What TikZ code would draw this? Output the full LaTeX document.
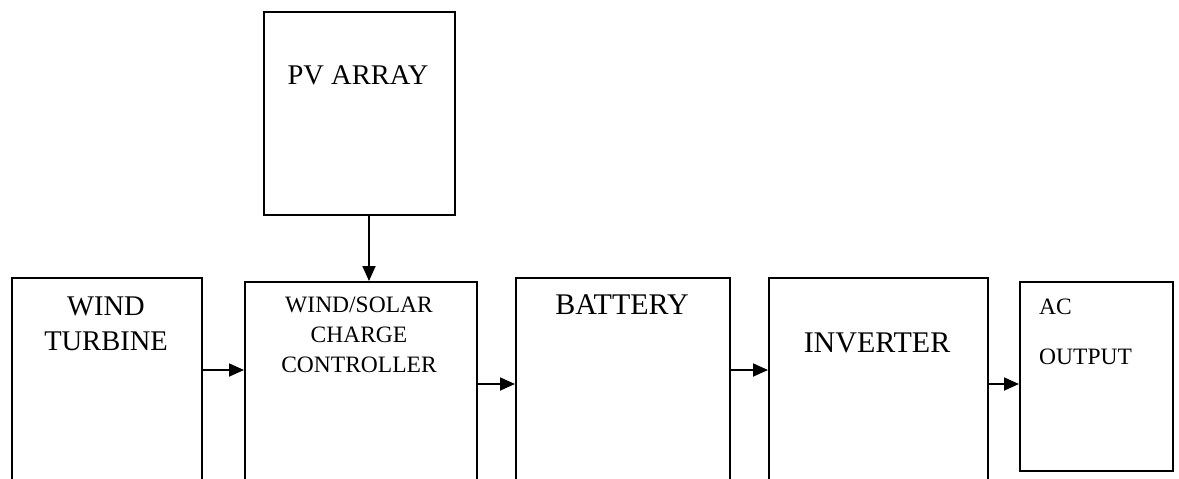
\documentclass[tikz,border=0pt]{standalone}
\usepackage{fontspec}
\setmainfont{Liberation Serif}
\usetikzlibrary{arrows.meta}
\begin{document}
\begin{tikzpicture}[x=1pt,y=-1pt,
  blk/.style={draw=black,line width=1.8pt,rectangle,inner sep=0pt,anchor=north west},
  arr/.style={line width=1.8pt,-{Triangle[length=15pt,width=13pt]}},
  bigtxt/.style={inner sep=0pt,font=\fontsize{28.5}{35}\selectfont,align=center},
  btxt/.style={inner sep=0pt,font=\fontsize{30}{35}\selectfont,align=center},
  smalltxt/.style={inner sep=0pt,font=\fontsize{23.5}{30}\selectfont,align=center},
  actxt/.style={inner sep=0pt,font=\fontsize{23.5}{30}\selectfont,anchor=west}]
\fill[white] (0,0) rectangle (1179,479);
\useasboundingbox (0,0) rectangle (1179,479);
\clip (0,0) rectangle (1179,479);
% boxes
\node[blk,minimum width=191pt,minimum height=203pt] (pv) at (263,11) {};
\node[blk,minimum width=190pt,minimum height=230pt] (wt) at (11,277) {};
\node[blk,minimum width=232pt,minimum height=230pt] (cc) at (244,281) {};
\node[blk,minimum width=214pt,minimum height=230pt] (bat) at (515,277) {};
\node[blk,minimum width=219pt,minimum height=230pt] (inv) at (768,277) {};
\node[blk,minimum width=153pt,minimum height=189pt] (ac) at (1019,281) {};
% texts
\node[bigtxt] (tpv) at (358,75) {PV ARRAY};
\node[bigtxt] (twt) at (106,324) {WIND\\TURBINE};
\node[smalltxt] (tcc) at (359,335) {WIND/SOLAR\\CHARGE\\CONTROLLER};
\node[btxt] (tbat) at (622,305) {BATTERY};
\node[btxt] (tinv) at (877,343) {INVERTER};
\node[actxt] (tac1) at (1039,307) {AC};
\node[actxt] (tac2) at (1039,357) {OUTPUT};
% connectors
\draw[arr] (pv.south -| 369,0) -- (cc.north -| 369,0);
\draw[arr] (wt.east |- 0,370) -- (cc.west |- 0,370);
\draw[arr] (cc.east |- 0,384) -- (bat.west |- 0,384);
\draw[arr] (bat.east |- 0,370) -- (inv.west |- 0,370);
\draw[arr] (inv.east |- 0,384) -- (ac.west |- 0,384);
\end{tikzpicture}
\end{document}
